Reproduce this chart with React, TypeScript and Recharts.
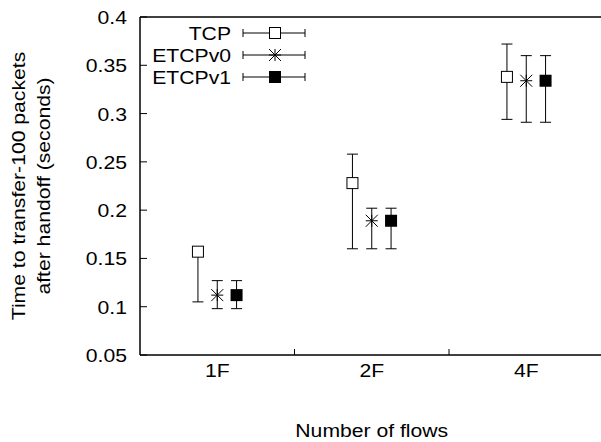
import React from "react";
import { ScatterChart, Scatter, XAxis, YAxis, ErrorBar, Legend, Label } from "recharts";

const categories = ["1F", "2F", "4F"];
const seriesNames = ["TCP", "ETCPv0", "ETCPv1"];

const tcpMean = [0.157, 0.228, 0.338];
const tcpLow = [0.105, 0.16, 0.294];
const tcpHigh = [0.16, 0.258, 0.372];

const v0Mean = [0.112, 0.189, 0.334];
const v0Low = [0.098, 0.16, 0.291];
const v0High = [0.127, 0.202, 0.36];

const v1Mean = [0.112, 0.189, 0.334];
const v1Low = [0.098, 0.16, 0.291];
const v1High = [0.127, 0.202, 0.36];

const yTicks = [0.05, 0.1, 0.15, 0.2, 0.25, 0.3, 0.35, 0.4];
const xTicks = [1, 1.5, 2, 2.5, 3];
const sepTicks = [1.5, 2.5];
const groupOffset = [-0.125, 0, 0.125];

const FONT = "'Liberation Sans', Arial, Helvetica, sans-serif";
const FS = 17.5;
const STRETCH = 1.21;

function build(mean: number[], low: number[], high: number[], k: number) {
  return mean.map((m, i) => ({
    x: i + 1 + groupOffset[k],
    y: m,
    err: [m - low[i], high[i] - m],
    cat: categories[i],
  }));
}

const tcpData = build(tcpMean, tcpLow, tcpHigh, 0);
const v0Data = build(v0Mean, v0Low, v0High, 1);
const v1Data = build(v1Mean, v1Low, v1High, 2);

function T({ x, y, anchor = "middle", rotate = false, children }: any) {
  return (
    <text
      transform={`translate(${x},${y})${rotate ? " rotate(-90)" : ""} scale(${STRETCH},1)`}
      textAnchor={anchor}
      fontFamily={FONT}
      fontSize={FS}
      fill="#000"
    >
      {children}
    </text>
  );
}

// markers
function OpenSquare({ cx, cy }: any) {
  return <rect x={cx - 5.5} y={cy - 5.5} width={11} height={11} fill="#fff" stroke="#000" strokeWidth={1} />;
}
function Star({ cx, cy }: any) {
  const r = 6;
  return (
    <g stroke="#000" strokeWidth={1}>
      <line x1={cx - r} y1={cy} x2={cx + r} y2={cy} />
      <line x1={cx} y1={cy - r} x2={cx} y2={cy + r} />
      <line x1={cx - r} y1={cy - r} x2={cx + r} y2={cy + r} />
      <line x1={cx - r} y1={cy + r} x2={cx + r} y2={cy - r} />
    </g>
  );
}
function FilledSquare({ cx, cy }: any) {
  return <rect x={cx - 6} y={cy - 6} width={12} height={12} fill="#000" />;
}
const markers = [OpenSquare, Star, FilledSquare];

function BottomTick({ x, y, payload }: any) {
  const v = payload.value;
  if (Number.isInteger(v)) {
    return <T x={x} y={y + 22}>{categories[v - 1]}</T>;
  }
  return <line x1={x} y1={y} x2={x} y2={y - 6} stroke="#000" strokeWidth={1} />;
}
function TopTick({ x, y }: any) {
  return <line x1={x} y1={y} x2={x} y2={y + 6} stroke="#000" strokeWidth={1} />;
}
function LeftTick({ x, y, payload }: any) {
  return (
    <g>
      <line x1={x} y1={y} x2={x + 7} y2={y} stroke="#000" strokeWidth={1} />
      <T x={x - 13} y={y + 7} anchor="end">{String(Number(payload.value.toFixed(2)))}</T>
    </g>
  );
}
function RightTick({ x, y }: any) {
  return <line x1={x} y1={y} x2={x - 7} y2={y} stroke="#000" strokeWidth={1} />;
}

function XTitle({ viewBox }: any) {
  const { x, y, width } = viewBox;
  return <T x={x + width / 2} y={y + 82}>Number of flows</T>;
}
function YTitle({ viewBox }: any) {
  const { x, y, height } = viewBox;
  const cy = y + height / 2;
  return (
    <g>
      <T x={x + 25} y={cy} rotate>Time to transfer-100 packets</T>
      <T x={x + 50} y={cy} rotate>after handoff (seconds)</T>
    </g>
  );
}

function LegendBox() {
  return (
    <svg width={170} height={72}>
      {seriesNames.map((name, i) => {
        const cy = 13 + i * 22;
        const M = markers[i];
        return (
          <g key={name}>
            <T x={81} y={cy + 6.5} anchor="end">{name}</T>
            <g stroke="#000" strokeWidth={1}>
              <line x1={93} y1={cy} x2={155} y2={cy} />
              <line x1={93} y1={cy - 4} x2={93} y2={cy + 4} />
              <line x1={155} y1={cy - 4} x2={155} y2={cy + 4} />
            </g>
            <M cx={125} cy={cy} />
          </g>
        );
      })}
    </svg>
  );
}

const axisLine = { stroke: "#000", strokeWidth: 1.5 };

export default function App() {
  return (
    <div style={{ position: "absolute", left: 0, top: 0, width: 601, height: 442, overflow: "hidden", background: "#fff" }}>
      <ScatterChart width={620} height={442} margin={{ top: 0, right: 0, bottom: 0, left: 0 }}>
        <XAxis
          xAxisId="b"
          type="number"
          dataKey="x"
          domain={[0.5, 3.5]}
          ticks={xTicks}
          interval={0}
          orientation="bottom"
          height={87}
          tickSize={0}
          tickMargin={0}
          tickLine={false}
          axisLine={axisLine}
          tick={<BottomTick />}
        >
          <Label content={<XTitle />} />
        </XAxis>
        <XAxis
          xAxisId="t"
          type="number"
          domain={[0.5, 3.5]}
          ticks={sepTicks}
          interval={0}
          orientation="top"
          height={17}
          tickSize={0}
          tickMargin={0}
          tickLine={false}
          axisLine={axisLine}
          tick={<TopTick />}
        />
        <YAxis
          yAxisId="l"
          type="number"
          dataKey="y"
          domain={[0.05, 0.4]}
          ticks={yTicks}
          interval={0}
          width={140}
          tickSize={0}
          tickMargin={0}
          tickLine={false}
          axisLine={axisLine}
          tick={<LeftTick />}
        >
          <Label content={<YTitle />} />
        </YAxis>
        <YAxis
          yAxisId="r"
          type="number"
          orientation="right"
          domain={[0.05, 0.4]}
          ticks={yTicks}
          interval={0}
          width={16.5}
          tickSize={0}
          tickMargin={0}
          tickLine={false}
          axisLine={false}
          tick={<RightTick />}
        />
        <Legend
          layout="vertical"
          align="center"
          verticalAlign="middle"
          content={<LegendBox />}
          wrapperStyle={{ left: 150, top: 20, width: 170, height: 72 }}
        />
        <Scatter name="TCP" data={tcpData} xAxisId="b" yAxisId="l" shape={<OpenSquare />} isAnimationActive={false}>
          <ErrorBar dataKey="err" direction="y" width={5.5} stroke="#000" strokeWidth={1} isAnimationActive={false} />
        </Scatter>
        <Scatter name="ETCPv0" data={v0Data} xAxisId="b" yAxisId="l" shape={<Star />} isAnimationActive={false}>
          <ErrorBar dataKey="err" direction="y" width={5.5} stroke="#000" strokeWidth={1} isAnimationActive={false} />
        </Scatter>
        <Scatter name="ETCPv1" data={v1Data} xAxisId="b" yAxisId="l" shape={<FilledSquare />} isAnimationActive={false}>
          <ErrorBar dataKey="err" direction="y" width={5.5} stroke="#000" strokeWidth={1} isAnimationActive={false} />
        </Scatter>
      </ScatterChart>
    </div>
  );
}
